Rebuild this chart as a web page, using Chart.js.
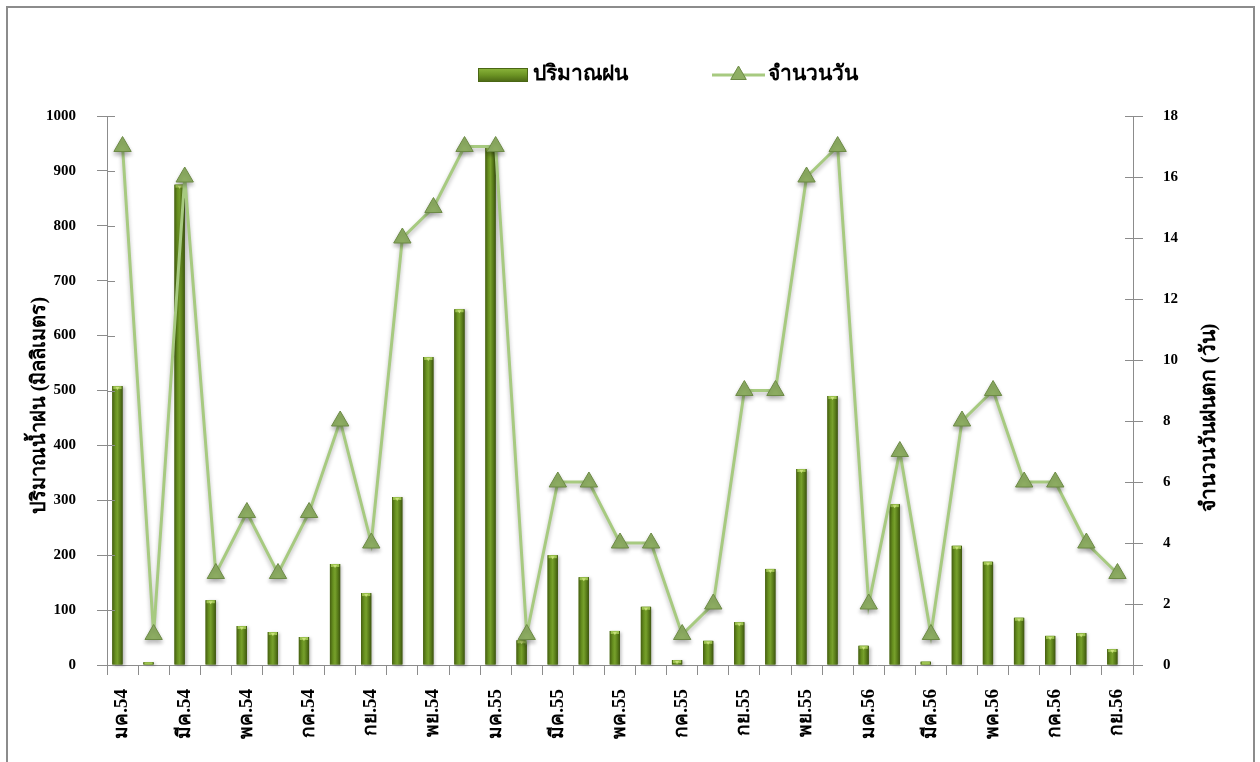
<!DOCTYPE html>
<html>
<head>
<meta charset="utf-8">
<script src="https://cdn.jsdelivr.net/npm/chart.js@4/dist/chart.umd.min.js"></script>
<style>
  html, body { margin: 0; padding: 0; background: #fff; }
  #wrap { position: relative; width: 1260px; height: 762px; }
  #frame { position: absolute; left: 6px; top: 6px; width: 1249px; height: 770px;
           border: 2px solid #8c8c8c; border-bottom: none; box-sizing: border-box; pointer-events: none; }
  canvas { position: absolute; left: 0; top: 0; }
</style>
</head>
<body>
<div id="wrap">
  <canvas id="c" width="1260" height="762"></canvas>
  <div id="frame"></div>
</div>
<script>
// Monthly rainfall and rainy days, Jan 2011 (B.E. 2554) to Sep 2013 (B.E. 2556)
const months = [
  'มค.54','กพ.54','มีค.54','เมย.54','พค.54','มิย.54','กค.54','สค.54','กย.54','ตค.54','พย.54','ธค.54',
  'มค.55','กพ.55','มีค.55','เมย.55','พค.55','มิย.55','กค.55','สค.55','กย.55','ตค.55','พย.55','ธค.55',
  'มค.56','กพ.56','มีค.56','เมย.56','พค.56','มิย.56','กค.56','สค.56','กย.56'
];
const rainfallMm = [
  508, 5, 875, 118, 71, 60, 51, 184, 131, 306, 561, 648,
  942, 45, 200, 160, 62, 106, 9, 44, 78, 175, 357, 490,
  35, 293, 6, 217, 188, 86, 53, 58, 29
];
const rainyDays = [
  17, 1, 16, 3, 5, 3, 5, 8, 4, 14, 15, 17,
  17, 1, 6, 6, 4, 4, 1, 2, 9, 9, 16, 17,
  2, 7, 1, 8, 9, 6, 6, 4, 3
];
const rainTicks = [0, 100, 200, 300, 400, 500, 600, 700, 800, 900, 1000];
const dayTicks = [0, 2, 4, 6, 8, 10, 12, 14, 16, 18];

const seriesRain = 'ปริมาณฝน';
const seriesDays = 'จำนวนวัน';
const titleLeft = 'ปริมาณน้ำฝน (มิลลิเมตร)';
const titleRight = 'จำนวนวันฝนตก (วัน)';

const SERIF = '"Liberation Serif", "Times New Roman", "DejaVu Serif", serif';
const AXIS_COLOR = '#8c8c8c';
const LINE_COLOR = '#a7ca80';
const MARK_FILL = '#8eae63';
const MARK_EDGE = '#6c8a45';

// Bars: cylinder-like shading painted over each bar element
const barShade = {
  id: 'barShade',
  afterDatasetDraw(chart, args) {
    if (args.index !== 1) return;
    const ctx = chart.ctx;
    const meta = args.meta;
    ctx.save();
    meta.data.forEach(bar => {
      const { x, y, base, width } = bar.getProps(['x', 'y', 'base', 'width'], true);
      if (y == null || isNaN(y)) return;
      const l = x - width / 2, r = x + width / 2;
      const h = base - y;
      if (h <= 0) return;
      ctx.shadowColor = 'rgba(0,0,0,0.25)';
      ctx.shadowBlur = 3;
      ctx.shadowOffsetX = 2;
      ctx.shadowOffsetY = 1;
      const g = ctx.createLinearGradient(l, 0, r, 0);
      g.addColorStop(0, '#465f12');
      g.addColorStop(0.3, '#67901f');
      g.addColorStop(0.5, '#77a02c');
      g.addColorStop(0.75, '#5a7e1a');
      g.addColorStop(1, '#3e5510');
      ctx.fillStyle = g;
      ctx.fillRect(l, y, width, h);
      ctx.shadowColor = 'transparent';
      // light cap at the top of the bar
      const capH = Math.min(3, h);
      ctx.fillStyle = '#9cc24f';
      ctx.fillRect(l + 1, y, width - 2, capH);
      if (h > 4) {
        ctx.fillStyle = '#c8e07a';
        ctx.beginPath();
        ctx.moveTo(x - 2, y + 1);
        ctx.lineTo(x + 2, y + 1);
        ctx.lineTo(x, y + 4);
        ctx.closePath();
        ctx.fill();
      }
    });
    ctx.restore();
  }
};

// Soft shadow under the line markers
const markerShadow = {
  id: 'markerShadow',
  beforeDatasetDraw(chart, args) {
    if (args.index !== 0) return;
    const ctx = chart.ctx;
    ctx.save();
    ctx.shadowColor = 'rgba(0,0,0,0.28)';
    ctx.shadowBlur = 4;
    ctx.shadowOffsetY = 3;
  },
  afterDatasetDraw(chart, args) {
    if (args.index !== 0) return;
    chart.ctx.restore();
  }
};

// Axis titles, inner tick marks and legend
const decorations = {
  id: 'decorations',
  afterDraw(chart) {
    const ctx = chart.ctx;
    const area = chart.chartArea;
    ctx.save();

    // inner half of the value-axis tick marks
    ctx.strokeStyle = AXIS_COLOR;
    ctx.lineWidth = 1;
    const yL = chart.scales.y, yR = chart.scales.y1;
    yL.ticks.forEach(t => {
      const p = Math.round(yL.getPixelForValue(t.value)) + 0.5;
      ctx.beginPath(); ctx.moveTo(area.left, p); ctx.lineTo(area.left + 8, p); ctx.stroke();
    });
    yR.ticks.forEach(t => {
      const p = Math.round(yR.getPixelForValue(t.value)) + 0.5;
      ctx.beginPath(); ctx.moveTo(area.right - 8, p); ctx.lineTo(area.right, p); ctx.stroke();
    });

    // axis titles
    ctx.fillStyle = '#000';
    ctx.textAlign = 'center';
    ctx.textBaseline = 'middle';
    ctx.font = 'bold 20px ' + SERIF;
    ctx.save();
    ctx.translate(40, (area.top + area.bottom) / 2 + 15);
    ctx.rotate(-Math.PI / 2);
    ctx.fillText(titleLeft, 0, 0);
    ctx.restore();
    ctx.font = 'bold 21px ' + SERIF;
    ctx.save();
    ctx.translate(1210, (area.top + area.bottom) / 2 + 27);
    ctx.rotate(-Math.PI / 2);
    ctx.fillText(titleRight, 0, 0);
    ctx.restore();

    // legend
    const ly = 75;
    const sx = 478, sw = 50, sh = 14;
    const g = ctx.createLinearGradient(0, ly - sh / 2, 0, ly + sh / 2);
    g.addColorStop(0, '#8cb63c');
    g.addColorStop(0.5, '#6c9424');
    g.addColorStop(1, '#4a6614');
    ctx.fillStyle = g;
    ctx.fillRect(sx, ly - sh / 2, sw, sh);
    ctx.strokeStyle = '#4a6614';
    ctx.strokeRect(sx + 0.5, ly - sh / 2 + 0.5, sw - 1, sh - 1);
    ctx.font = 'bold 21px ' + SERIF;
    ctx.textAlign = 'left';
    ctx.fillStyle = '#000';
    ctx.fillText(seriesRain, sx + sw + 5, ly);

    const lx = 712, lw = 53;
    ctx.strokeStyle = LINE_COLOR;
    ctx.lineWidth = 3;
    ctx.beginPath(); ctx.moveTo(lx, ly); ctx.lineTo(lx + lw, ly); ctx.stroke();
    const cx = lx + lw / 2, r = 9;
    ctx.beginPath();
    ctx.moveTo(cx, ly - r);
    ctx.lineTo(cx + r * 0.866, ly + r / 2);
    ctx.lineTo(cx - r * 0.866, ly + r / 2);
    ctx.closePath();
    ctx.fillStyle = MARK_FILL;
    ctx.fill();
    ctx.lineWidth = 1;
    ctx.strokeStyle = MARK_EDGE;
    ctx.stroke();
    ctx.fillStyle = '#000';
    ctx.fillText(seriesDays, lx + lw + 3, ly);

    ctx.restore();
  }
};

const tickFont = { family: SERIF, size: 15, weight: 'bold' };

new Chart(document.getElementById('c'), {
  data: {
    labels: months,
    datasets: [
      {
        type: 'line',
        label: seriesDays,
        data: rainyDays,
        yAxisID: 'y1',
        order: 0,
        borderColor: LINE_COLOR,
        borderWidth: 3,
        tension: 0,
        pointStyle: 'triangle',
        pointRadius: 10,
        pointBackgroundColor: MARK_FILL,
        pointBorderColor: MARK_EDGE,
        pointBorderWidth: 1
      },
      {
        type: 'bar',
        label: seriesRain,
        data: rainfallMm,
        yAxisID: 'y',
        order: 1,
        backgroundColor: '#5d8220',
        categoryPercentage: 0.66,
        barPercentage: 1
      },
      {
        // empty companion series that shares each category slot
        type: 'bar',
        label: '',
        data: months.map(() => null),
        yAxisID: 'y',
        order: 2,
        backgroundColor: 'rgba(0,0,0,0)',
        categoryPercentage: 0.66,
        barPercentage: 1
      }
    ]
  },
  options: {
    responsive: false,
    animation: false,
    layout: { padding: { top: 116, left: 0, right: 0, bottom: 0 } },
    plugins: {
      legend: { display: false },
      tooltip: { enabled: false }
    },
    scales: {
      x: {
        offset: true,
        grid: { display: true, drawOnChartArea: false, offset: true, color: AXIS_COLOR, tickLength: 10 },
        border: { color: AXIS_COLOR, width: 1 },
        ticks: {
          autoSkip: false,
          minRotation: 90,
          maxRotation: 90,
          padding: 14,
          color: '#000',
          font: { family: SERIF, size: 19, weight: 'bold' },
          callback: (v, i) => (i % 2 === 0 ? months[i] : '')
        },
        afterFit: s => { s.height = 97; }
      },
      y: {
        position: 'left',
        min: 0,
        max: 1000,
        afterBuildTicks: s => { s.ticks = rainTicks.map(v => ({ value: v })); },
        grid: { drawOnChartArea: false, color: AXIS_COLOR, tickLength: 10 },
        border: { color: AXIS_COLOR, width: 1 },
        ticks: { color: '#000', font: tickFont, padding: 21, callback: v => String(v) },
        afterFit: s => { s.width = 107; }
      },
      y1: {
        position: 'right',
        min: 0,
        max: 18,
        afterBuildTicks: s => { s.ticks = dayTicks.map(v => ({ value: v })); },
        grid: { drawOnChartArea: false, color: AXIS_COLOR, tickLength: 10 },
        border: { color: AXIS_COLOR, width: 1 },
        ticks: { color: '#000', font: tickFont, padding: 20, callback: v => String(v) },
        afterFit: s => { s.width = 127; }
      }
    }
  },
  plugins: [barShade, markerShadow, decorations]
});
</script>
</body>
</html>
